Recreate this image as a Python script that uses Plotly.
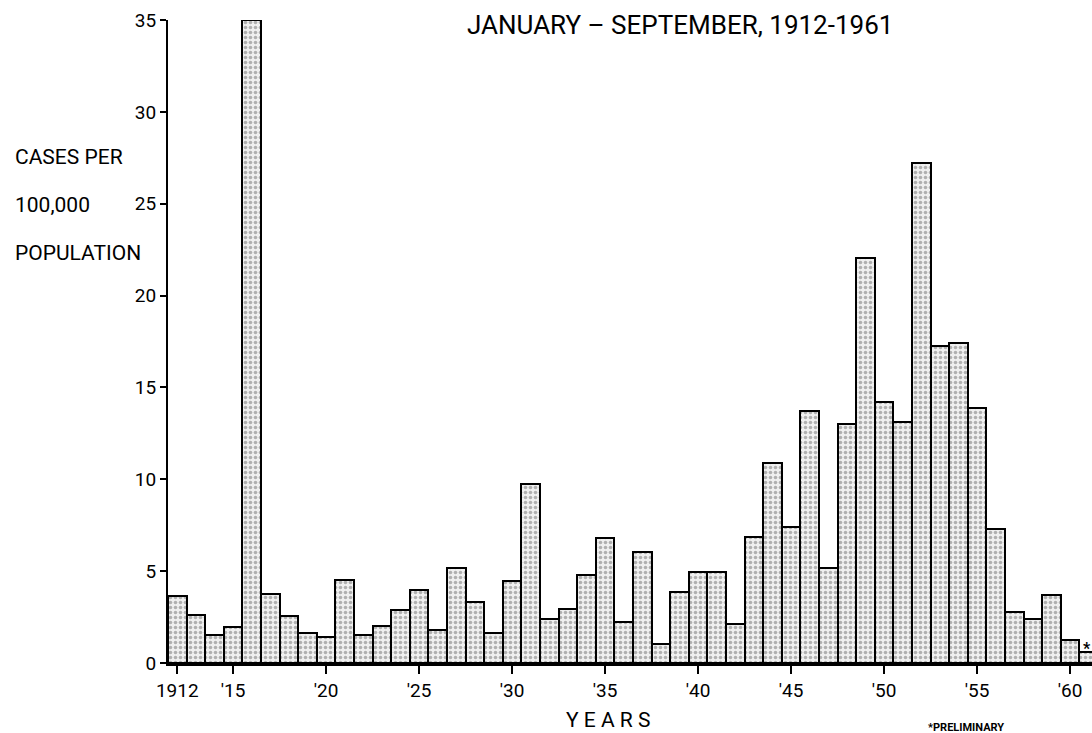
import plotly.graph_objects as go

# ---- data ----
years = list(range(1912, 1962))
rates = [3.66, 2.61, 1.53, 1.95, 35.0, 3.78, 2.56, 1.66, 1.42, 4.52,
         1.50, 2.04, 2.88, 3.95, 1.77, 5.15, 3.33, 1.62, 4.49, 9.73,
         2.40, 2.94, 4.77, 6.79, 2.25, 6.04, 1.06, 3.87, 4.95, 4.95,
         2.13, 6.88, 10.9, 7.42, 13.7, 5.19, 13.0, 22.05, 14.2, 13.1,
         27.2, 17.25, 17.4, 13.9, 7.30, 2.76, 2.38, 3.69, 1.26, 0.6]
x_tick_vals = [1912, 1915, 1920, 1925, 1930, 1935, 1940, 1945, 1950, 1955, 1960]
x_tick_text = ["1912", "'15", "'20", "'25", "'30", "'35", "'40", "'45", "'50", "'55", "'60"]
y_tick_vals = [0, 5, 10, 15, 20, 25, 30, 35]

W, H = 1092, 733
FONT = "Roboto, 'Liberation Sans', sans-serif"

def px(x):
    return x / W

def py(y):
    return 1 - y / H

fig = go.Figure()
fig.add_trace(go.Bar(
    x=years, y=rates,
    marker=dict(
        color="#e8e8e8",
        line=dict(color="black", width=2),
        pattern=dict(shape=".", fgcolor="#707070", bgcolor="#f0f0f0", size=5, solidity=0.4),
    ),
    width=1.0,
    showlegend=False,
))

fig.update_layout(
    width=W, height=H,
    margin=dict(l=0, r=0, t=0, b=0),
    paper_bgcolor="white", plot_bgcolor="white",
    bargap=0,
    font=dict(family=FONT, color="black"),
    xaxis=dict(
        domain=[px(168), 1.0],
        range=[1911.5, 1911.5 + (W - 168) / 18.6],
        tickmode="array", tickvals=x_tick_vals, ticktext=x_tick_text,
        ticks="outside", ticklen=8, tickwidth=2, tickcolor="black",
        showline=True, linecolor="black", linewidth=2.5,
        showgrid=False, zeroline=False,
        tickfont=dict(size=19, family=FONT, color="black"),
        automargin=False,
    ),
    yaxis=dict(
        domain=[py(663), py(20)],
        range=[0, 35],
        tickmode="array", tickvals=y_tick_vals,
        ticks="outside", ticklen=6, tickwidth=2, tickcolor="black",
        showline=True, linecolor="black", linewidth=2,
        showgrid=False, zeroline=False,
        tickfont=dict(size=19, family=FONT, color="black"),
        automargin=False,
    ),
)

annots = [
    dict(text="JANUARY – SEPTEMBER, 1912-1961", x=px(680), y=py(25), size=26, xanchor="center"),
    dict(text="CASES PER", x=px(13), y=py(157), size=21, xanchor="left"),
    dict(text="100,000", x=px(13), y=py(205), size=21, xanchor="left"),
    dict(text="POPULATION", x=px(13), y=py(253), size=21, xanchor="left"),
    dict(text="Y E A R S", x=px(608), y=py(720), size=21, xanchor="center"),
    dict(text="<b>*PRELIMINARY</b>", x=px(966), y=py(727), size=11, xanchor="center"),
    dict(text="<b>*</b>", x=px(1087), y=py(648), size=16, xanchor="center"),
]
for a in annots:
    fig.add_annotation(text=a["text"], x=a["x"], y=a["y"], xref="paper", yref="paper",
                       xanchor=a["xanchor"], yanchor="middle", showarrow=False,
                       font=dict(size=a["size"], family=FONT, color="black"))

fig.write_html("out.html", config={"displayModeBar": False},
               post_script="document.body.style.margin='0';document.body.style.overflow='hidden';")
